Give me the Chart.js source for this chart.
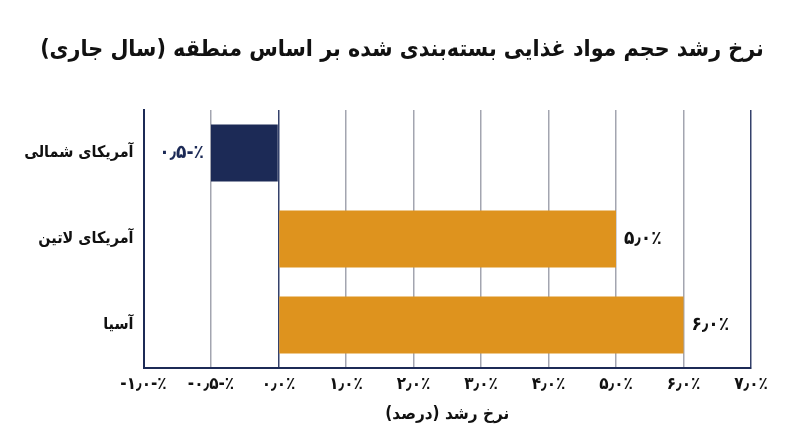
<!DOCTYPE html>
<html lang="fa">
<head>
<meta charset="utf-8">
<script src="https://cdn.jsdelivr.net/npm/chart.js@4/dist/chart.umd.min.js"></script>
<style>
html,body{margin:0;padding:0;background:#fff;}
#wrap{width:800px;height:447px;}
</style>
</head>
<body>
<div id="wrap"><canvas id="c" width="800" height="447"></canvas></div>
<script>
const LRO = '\u202D', PDF = '\u202C';
const titleText = 'نرخ رشد حجم مواد غذایی بسته‌بندی شده بر اساس منطقه (سال جاری)';
const xAxisTitle = 'نرخ رشد (درصد)';
const categories = ['آمریکای شمالی', 'آمریکای لاتین', 'آسیا'];
const growthValues = [-0.5, 5.0, 6.0];
const valueLabels = ['۰٫۵-٪', '۵٫۰٪', '۶٫۰٪'];
const tickValues = [-1, -0.5, 0, 1, 2, 3, 4, 5, 6, 7];
const tickLabels = ['-۱٫۰-٪', '-۰٫۵-٪', '۰٫۰٪', '۱٫۰٪', '۲٫۰٪', '۳٫۰٪', '۴٫۰٪', '۵٫۰٪', '۶٫۰٪', '۷٫۰٪'];

const NAVY = '#1c2a56';
const ORANGE = '#de931e';
const FONT = "'DejaVu Sans Condensed', 'DejaVu Sans', sans-serif";

// Scale whose ticks are evenly spaced (piecewise linear between tick values)
function valueToIndex(v) {
  const t = tickValues;
  if (v <= t[0]) return (v - t[0]) / (t[1] - t[0]);
  for (let i = 0; i < t.length - 1; i++) {
    if (v >= t[i] && v <= t[i + 1]) return i + (v - t[i]) / (t[i + 1] - t[i]);
  }
  const n = t.length - 1;
  return n + (v - t[n]) / (t[n] - t[n - 1]);
}
function indexToValue(x) {
  const t = tickValues, n = t.length - 1;
  const i = Math.max(0, Math.min(n - 1, Math.floor(x)));
  return t[i] + (x - i) * (t[i + 1] - t[i]);
}
class StepScale extends Chart.LinearScale {
  buildTicks() {
    this.min = tickValues[0];
    this.max = tickValues[tickValues.length - 1];
    return tickValues.map(v => ({ value: v }));
  }
  getPixelForValue(value) {
    if (value === null || value === undefined || isNaN(value)) return NaN;
    return this.getPixelForDecimal(valueToIndex(value) / (tickValues.length - 1));
  }
  getValueForPixel(pixel) {
    return indexToValue(this.getDecimalForPixel(pixel) * (tickValues.length - 1));
  }
}
StepScale.id = 'step';
StepScale.defaults = { ticks: { callback: (v) => v } };
Chart.register(StepScale);

const titlePlugin = {
  id: 'centerTitle',
  afterDraw(chart) {
    const ctx = chart.ctx;
    ctx.save();
    ctx.font = "bold 23px " + FONT;
    ctx.fillStyle = '#111';
    ctx.textAlign = 'center';
    ctx.textBaseline = 'middle';
    ctx.direction = 'rtl';
    ctx.fillText(titleText, chart.width / 2 + 2, 50);
    ctx.restore();
  }
};

const valueLabelPlugin = {
  id: 'valueLabels',
  afterDatasetsDraw(chart) {
    const ctx = chart.ctx;
    const meta = chart.getDatasetMeta(0);
    ctx.save();
    ctx.font = "bold 19px " + FONT;
    ctx.textBaseline = 'middle';
    ctx.direction = 'ltr';
    meta.data.forEach((bar, i) => {
      const v = growthValues[i];
      const txt = LRO + valueLabels[i] + PDF;
      if (v < 0) {
        ctx.fillStyle = NAVY;
        ctx.textAlign = 'right';
        ctx.fillText(txt, bar.x - 7, bar.y);
      } else {
        ctx.fillStyle = '#111';
        ctx.textAlign = 'left';
        ctx.fillText(txt, bar.x + 8, bar.y);
      }
    });
    ctx.restore();
  }
};

new Chart(document.getElementById('c'), {
  type: 'bar',
  data: {
    labels: categories,
    datasets: [{
      data: growthValues,
      backgroundColor: growthValues.map(v => v < 0 ? NAVY : ORANGE),
      borderWidth: 0,
      barPercentage: 0.66,
      categoryPercentage: 1.0
    }]
  },
  options: {
    indexAxis: 'y',
    responsive: false,
    animation: false,
    devicePixelRatio: 1,
    layout: { padding: { left: 0, right: 49, top: 110, bottom: 0 } },
    plugins: {
      legend: { display: false },
      tooltip: { enabled: false },
      title: { display: false }
    },
    scales: {
      x: {
        type: 'step',
        position: 'bottom',
        afterFit: (s) => { s.height = 447 - 368; },
        border: { display: true, color: NAVY, width: 2 },
        grid: {
          drawTicks: false,
          lineWidth: 1.5,
          color: (c) => {
            const v = c.tick ? c.tick.value : null;
            if (v === 0 || v === 7) return '#34416b';
            return '#a3a5b0';
          }
        },
        ticks: {
          autoSkip: false,
          maxRotation: 0,
          padding: 6,
          color: '#111',
          font: { family: FONT, size: 17, weight: 'bold' },
          callback: (v, i) => LRO + tickLabels[i] + PDF
        },
        title: {
          display: true,
          text: xAxisTitle,
          color: '#111',
          font: { family: FONT, size: 17, weight: 'bold' },
          padding: { top: 0, bottom: 22 }
        }
      },
      y: {
        type: 'category',
        afterFit: (s) => { s.width = 143.5; },
        border: { display: true, color: NAVY, width: 2 },
        grid: { display: false, drawTicks: false },
        ticks: {
          padding: 10,
          color: '#111',
          font: { family: FONT, size: 16, weight: 'bold' }
        }
      }
    }
  },
  plugins: [valueLabelPlugin, titlePlugin]
});
</script>
</body>
</html>
